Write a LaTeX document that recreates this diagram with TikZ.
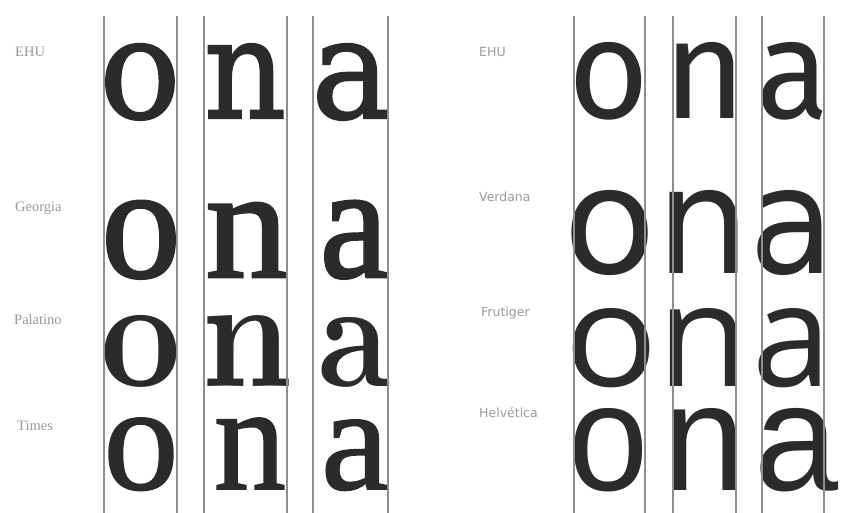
\documentclass[tikz,border=0pt]{standalone}
\usepackage{fontspec}
\usepackage{graphicx}
\usetikzlibrary{positioning}

\newfontfamily\ehuserif[FakeBold=1.6]{DejaVu Serif}
\newfontfamily\georgiaface[FakeBold=1.8]{Liberation Serif}
\newfontfamily\timesface[FakeBold=1.2]{Liberation Serif}
\newfontfamily\lblserif{Liberation Serif}
\newfontfamily\ehusans{Fira Sans}
\newfontfamily\verdface{DejaVu Sans}
\newfontfamily\frutface{Open Sans}
\newfontfamily\helvface{Liberation Sans}
\newcommand{\palface}{\rmfamily\bfseries}

\definecolor{ink}{HTML}{2B2B2B}
\definecolor{rulegray}{HTML}{8E8E8E}
\definecolor{lblgray}{HTML}{9A9A9A}

% width, height (pt), font, letter
\newcommand{\fitglyph}[4]{\resizebox{#1pt}{#2pt}{#3#4}}

\begin{document}
\begin{tikzpicture}[
    x=1pt, y=-1pt,
    glyph/.style={anchor=base, inner sep=0pt, text=ink},
    rule/.style={draw=rulegray, line width=1.1pt},
    lbl/.style={anchor=west, inner sep=0pt, text=lblgray, font=\lblserif\fontsize{14.5}{16}\selectfont},
    slbl/.style={anchor=west, inner sep=0pt, text=lblgray, font=\verdface\fontsize{12.5}{14}\selectfont}
  ]
  \fill[white] (0,0) rectangle (842,513);
  \useasboundingbox (0,0) rectangle (842,513);

  % serif side
  \node[lbl] (lehu)  at (15,52)  {EHU};
  \node[lbl] (lgeo)  at (15,208) {Georgia};
  \node[lbl] (lpal)  at (14,320) {Palatino};
  \node[lbl] (ltim)  at (17,426) {Times};

  \node[glyph] (ehuo) at (140,118)   {\fitglyph{81}{74}{\ehuserif}{o}};
  \node[glyph] (ehun) at (245,118)   {\fitglyph{82}{74}{\ehuserif}{n}};
  \node[glyph] (ehua) at (351,118)   {\fitglyph{79}{74}{\ehuserif}{a}};

  \node[glyph] (geoo) at (141,277)   {\fitglyph{79}{76}{\georgiaface}{o}};
  \node[glyph] (geon) at (247,277)   {\fitglyph{83}{74}{\georgiaface}{n}};
  \node[glyph] (geoa) at (354,277)   {\fitglyph{68}{76}{\georgiaface}{a}};

  \node[glyph] (palo) at (141,386)   {\fitglyph{81}{71}{\palface}{o}};
  \node[glyph] (paln) at (247.5,386) {\fitglyph{91}{71}{\palface}{n}};
  \node[glyph] (pala) at (354.5,386) {\fitglyph{72}{69}{\palface}{a}};

  \node[glyph] (timo) at (141,489)   {\fitglyph{75}{71}{\timesface}{o}};
  \node[glyph] (timn) at (250,489)   {\fitglyph{72}{71}{\timesface}{n}};
  \node[glyph] (tima) at (355,489)   {\fitglyph{68}{69}{\timesface}{a}};

  \draw[rule] (104,16) -- (104,513) (177,16) -- (177,513);
  \draw[rule] (204,16) -- (204,513) (287,16) -- (287,513);
  \draw[rule] (313,16) -- (313,513) (388,16) -- (388,513);

  % sans side
  \node[slbl] (rehu)  at (479,52)  {EHU};
  \node[slbl] (rver)  at (479,197) {Verdana};
  \node[slbl] (rfru)  at (481,313) {Frutiger};
  \node[slbl] (rhel)  at (479,413) {Helvética};

  \node[glyph] (sehuo) at (609,119)   {\fitglyph{81}{76}{\ehusans}{o}};
  \node[glyph] (sehun) at (704.5,119) {\fitglyph{83}{76}{\ehusans}{n}};
  \node[glyph] (sehua) at (793,119)   {\fitglyph{73}{76}{\ehusans}{a}};

  \node[glyph] (vero) at (610,273)    {\fitglyph{93}{83}{\verdface}{o}};
  \node[glyph] (vern) at (703.5,273)  {\fitglyph{94}{83}{\verdface}{n}};
  \node[glyph] (vera) at (792.5,273)  {\fitglyph{85}{83}{\verdface}{a}};

  \node[glyph] (fruo) at (611,386)    {\fitglyph{94}{78}{\frutface}{o}};
  \node[glyph] (frun) at (703.5,386)  {\fitglyph{92}{78}{\frutface}{n}};
  \node[glyph] (frua) at (792.5,386)  {\fitglyph{79}{78}{\frutface}{a}};

  \node[glyph] (helo) at (609,490)    {\fitglyph{80}{82}{\helvface}{o}};
  \node[glyph] (heln) at (705,490)    {\fitglyph{82}{82}{\helvface}{n}};
  \node[glyph] (hela) at (796.5,490)  {\fitglyph{84}{82}{\helvface}{a}};

  \draw[rule] (574,16) -- (574,513) (645,16) -- (645,513);
  \draw[rule] (673,16) -- (673,513) (736,16) -- (736,513);
  \draw[rule] (762,16) -- (762,513) (824,16) -- (824,513);
\end{tikzpicture}
\end{document}
